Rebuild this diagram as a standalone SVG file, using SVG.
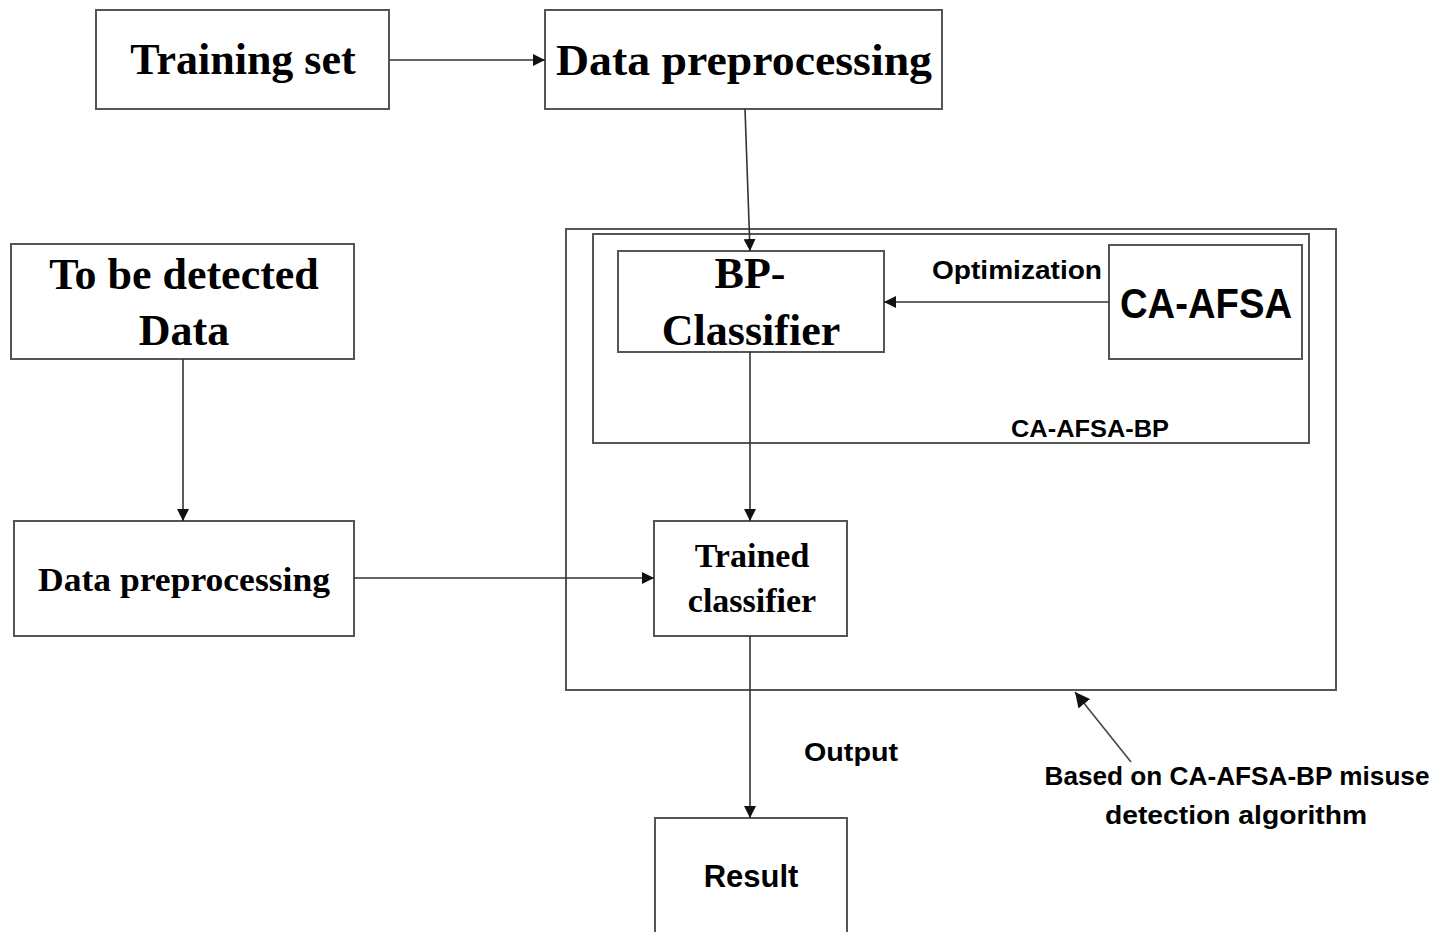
<svg xmlns="http://www.w3.org/2000/svg" width="1450" height="932" viewBox="0 0 1450 932">
<style>
.box{fill:#fff;stroke:#555;stroke-width:2}
.frame{fill:none;stroke:#555;stroke-width:2}
.serif{font-family:"Liberation Serif","Times New Roman",serif;font-weight:bold;fill:#000;text-anchor:middle}
.sans{font-family:"Liberation Sans",Arial,sans-serif;font-weight:bold;fill:#000;text-anchor:middle}
.conn{stroke:#333;stroke-width:1.6;fill:none;marker-end:url(#arr)}
</style>
<defs>
<marker id="arr" viewBox="0 0 10 10" refX="10" refY="5" markerWidth="12" markerHeight="12" markerUnits="userSpaceOnUse" orient="auto">
<path d="M0,0 L10,5 L0,10 z" fill="#111"/>
</marker>
<marker id="arr2" viewBox="0 0 10 10" refX="10" refY="5" markerWidth="15" markerHeight="15" markerUnits="userSpaceOnUse" orient="auto">
<path d="M0,0 L10,5 L0,10 z" fill="#111"/>
</marker>
</defs>
<rect width="1450" height="932" fill="#fff"/>
<g id="outer-frame"><rect class="frame" x="566" y="229" width="770" height="461"/></g>
<g id="ca-afsa-bp"><rect class="frame" x="593" y="234" width="716" height="209"/>
<text class="sans" x="1090" y="437" font-size="24" textLength="158" lengthAdjust="spacingAndGlyphs">CA-AFSA-BP</text></g>
<g id="training-set"><rect class="box" x="96" y="10" width="293" height="99"/>
<text class="serif" x="243" y="74" font-size="44">Training set</text></g>
<g id="data-preprocessing-top"><rect class="box" x="545" y="10" width="397" height="99"/>
<text class="serif" x="744" y="75" font-size="44" textLength="376" lengthAdjust="spacingAndGlyphs">Data preprocessing</text></g>
<g id="bp-classifier"><rect class="box" x="618" y="251" width="266" height="101"/>
<text class="serif" x="750" y="288" font-size="44">BP-</text>
<text class="serif" x="751" y="345" font-size="44">Classifier</text></g>
<g id="ca-afsa"><rect class="box" x="1109" y="245" width="193" height="114"/>
<text class="sans" x="1206" y="318" font-size="42" textLength="172" lengthAdjust="spacingAndGlyphs">CA-AFSA</text></g>
<g id="to-be-detected"><rect class="box" x="11" y="244" width="343" height="115"/>
<text class="serif" x="184" y="289" font-size="44">To be detected</text>
<text class="serif" x="184" y="345" font-size="44">Data</text></g>
<g id="data-preprocessing-left"><rect class="box" x="14" y="521" width="340" height="115"/>
<text class="serif" x="184" y="591" font-size="34" textLength="292" lengthAdjust="spacingAndGlyphs">Data preprocessing</text></g>
<g id="trained-classifier"><rect class="box" x="654" y="521" width="193" height="115"/>
<text class="serif" x="752" y="567" font-size="34">Trained</text>
<text class="serif" x="752" y="612" font-size="34">classifier</text></g>
<g id="result"><rect class="box" x="655" y="818" width="192" height="120"/>
<text class="sans" x="751" y="887" font-size="31">Result</text></g>
<g id="labels">
<text class="sans" x="1017" y="279" font-size="25" textLength="170" lengthAdjust="spacingAndGlyphs">Optimization</text>
<text class="sans" x="851" y="761" font-size="25" textLength="94" lengthAdjust="spacingAndGlyphs">Output</text>
<text class="sans" x="1237" y="785" font-size="25" textLength="385" lengthAdjust="spacingAndGlyphs">Based on CA-AFSA-BP misuse</text>
<text class="sans" x="1236" y="824" font-size="25" textLength="262" lengthAdjust="spacingAndGlyphs">detection algorithm</text>
</g>
<g id="connectors">
<line class="conn" x1="389" y1="60" x2="545" y2="60"/>
<line class="conn" x1="745" y1="109" x2="750" y2="251"/>
<line class="conn" x1="1109" y1="302" x2="884" y2="302"/>
<line class="conn" x1="750" y1="352" x2="750" y2="521"/>
<line class="conn" x1="183" y1="359" x2="183" y2="521"/>
<line class="conn" x1="354" y1="578" x2="654" y2="578"/>
<line class="conn" x1="750" y1="636" x2="750" y2="818"/>
<line x1="1131" y1="762" x2="1075" y2="692" stroke="#444" stroke-width="1.6" marker-end="url(#arr2)"/>
</g>
</svg>
